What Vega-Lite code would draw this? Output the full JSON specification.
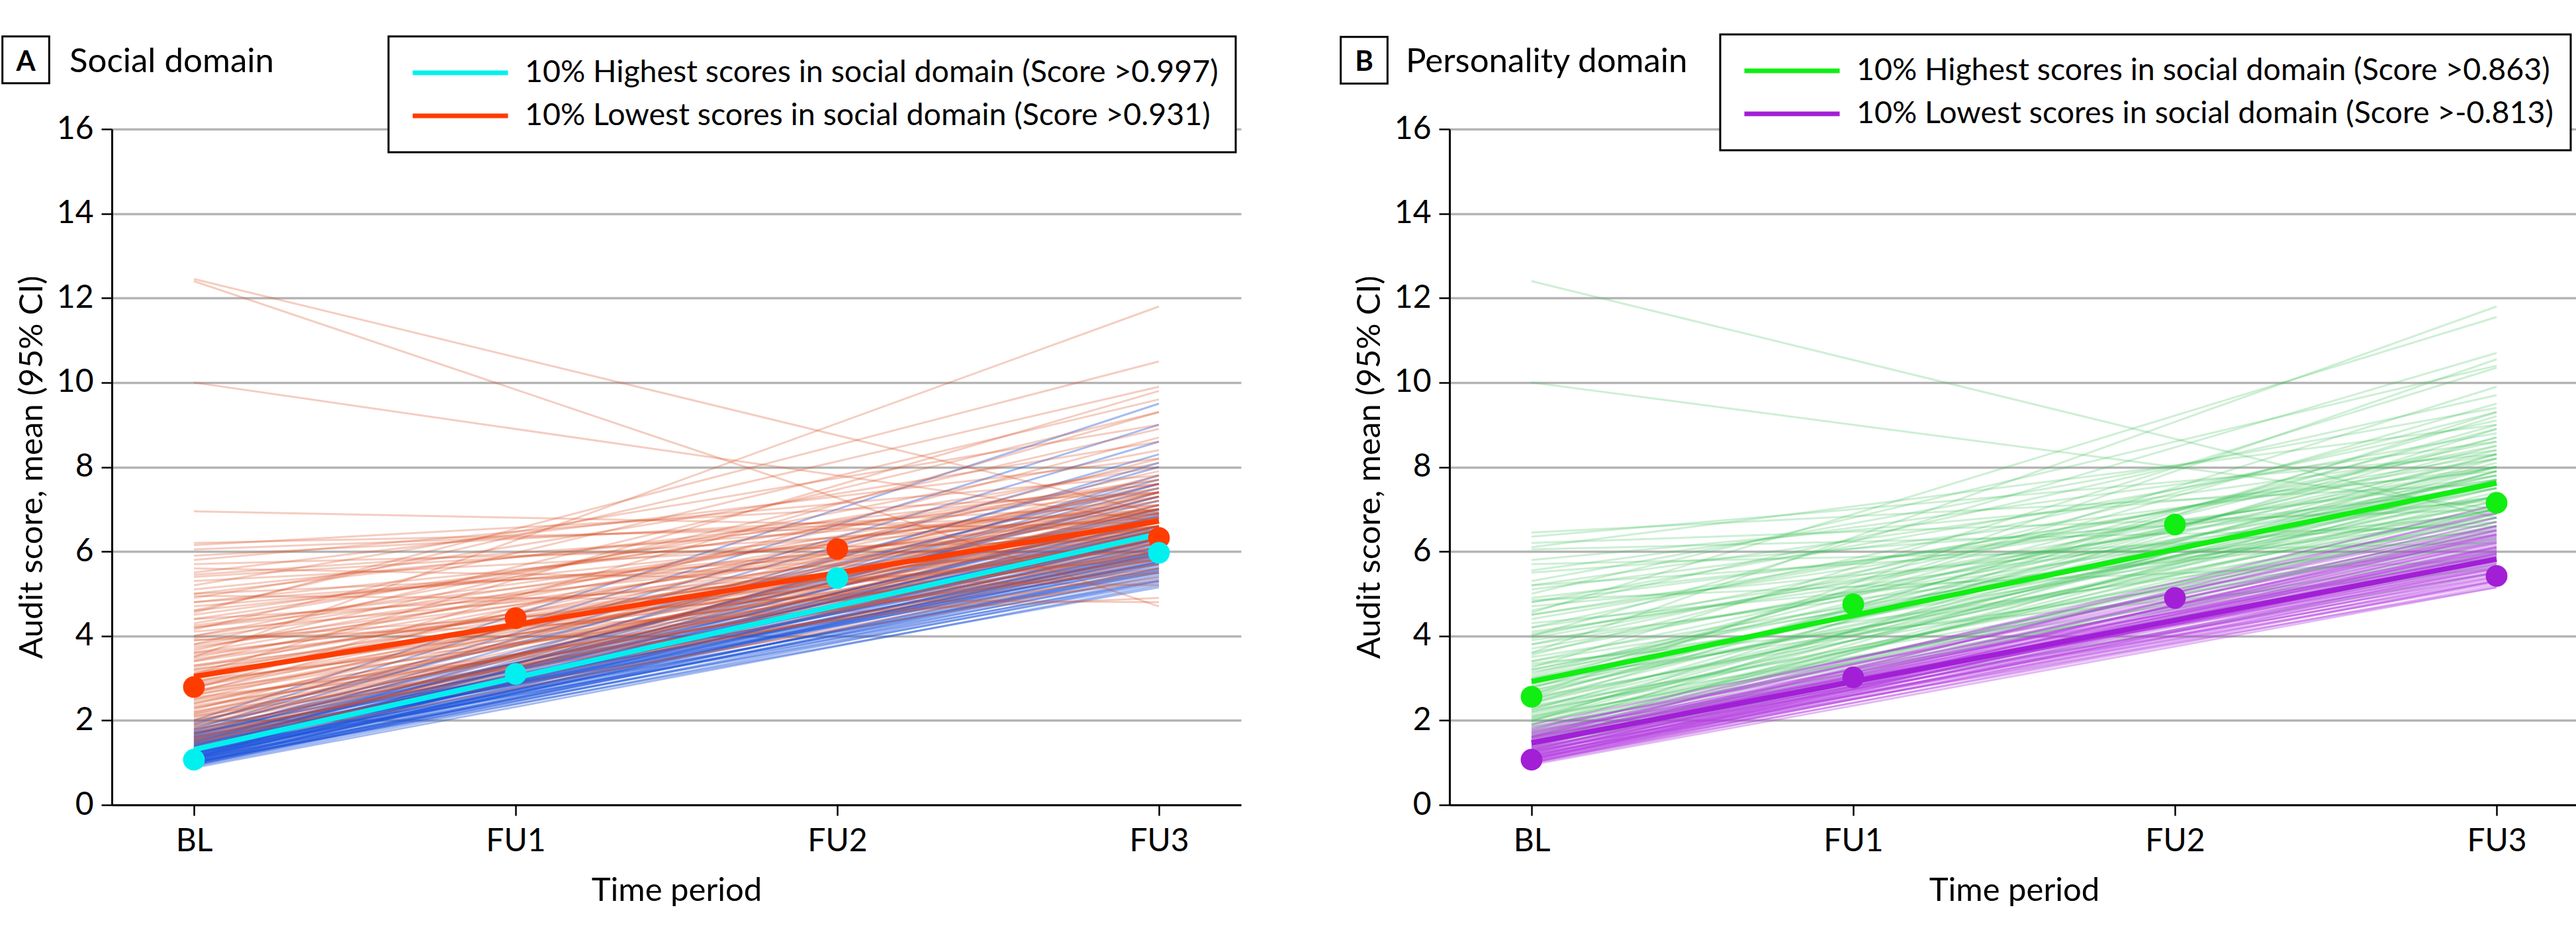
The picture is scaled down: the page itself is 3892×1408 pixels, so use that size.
{
  "$schema": "https://vega.github.io/schema/vega-lite/v6.json",
  "background": "white",
  "padding": {"left": -3, "top": 49, "right": 0, "bottom": 0},
  "spacing": 144,
  "config": {
    "font": "Lato",
    "view": {"stroke": null},
    "axis": {
      "domainColor": "black", "domainWidth": 3, "tickColor": "black", "tickWidth": 2.5, "tickSize": 16,
      "labelFont": "Lato", "labelFontSize": 48, "labelColor": "black",
      "titleFont": "Lato", "titleFontSize": 49, "titleFontWeight": "normal", "titleColor": "black"
    },
    "axisX": {"grid": false, "labelPadding": 15, "titlePadding": 26},
    "axisY": {"grid": true, "gridColor": "#b4b4b4", "gridWidth": 3.5, "labelPadding": 12, "titlePadding": 12, "format": "d"},
    "legend": {
      "orient": "none", "title": null, "symbolType": "stroke", "symbolSize": 20736, "symbolStrokeWidth": 7,
      "symbolOpacity": 1, "clipHeight": 58, "rowPadding": 7, "padding": 26, "symbolOffset": 7, "labelOffset": 22,
      "labelFont": "Lato", "labelFontSize": 46.5, "labelColor": "black", "labelLimit": 0,
      "fillColor": "white", "strokeColor": "black", "direction": "vertical"
    }
  },
  "resolve": {"scale": {"color": "independent"}, "legend": {"color": "independent"}},
  "datasets": {
    "socialHigh": [
      {"bl":0.88,"fu3":5.2},{"bl":0.92,"fu3":5.3},{"bl":0.95,"fu3":5.45},{"bl":0.97,"fu3":5.6},{"bl":1.0,"fu3":5.35},
      {"bl":1.0,"fu3":5.7},{"bl":1.02,"fu3":5.9},{"bl":1.05,"fu3":5.5},{"bl":1.05,"fu3":6.1},{"bl":1.08,"fu3":5.8},
      {"bl":1.1,"fu3":5.25},{"bl":1.1,"fu3":6.3},{"bl":1.12,"fu3":5.95},{"bl":1.15,"fu3":5.6},{"bl":1.15,"fu3":6.5},
      {"bl":1.18,"fu3":6.05},{"bl":1.2,"fu3":5.4},{"bl":1.2,"fu3":6.7},{"bl":1.22,"fu3":6.2},{"bl":1.25,"fu3":5.75},
      {"bl":1.25,"fu3":6.9},{"bl":1.28,"fu3":6.35},{"bl":1.3,"fu3":5.5},{"bl":1.3,"fu3":7.1},{"bl":1.32,"fu3":6.0},
      {"bl":1.35,"fu3":6.6},{"bl":1.38,"fu3":5.85},{"bl":1.4,"fu3":7.3},{"bl":1.42,"fu3":6.25},{"bl":1.45,"fu3":5.65},
      {"bl":1.45,"fu3":6.8},{"bl":1.48,"fu3":7.5},{"bl":1.5,"fu3":6.1},{"bl":1.52,"fu3":7.0},{"bl":1.55,"fu3":5.9},
      {"bl":1.58,"fu3":6.45},{"bl":1.6,"fu3":7.7},{"bl":1.62,"fu3":6.3},{"bl":1.65,"fu3":8.0},{"bl":1.68,"fu3":6.7},
      {"bl":1.7,"fu3":5.7},{"bl":1.72,"fu3":7.2},{"bl":1.75,"fu3":8.3},{"bl":1.78,"fu3":6.5},{"bl":1.8,"fu3":8.6},
      {"bl":1.85,"fu3":7.0},{"bl":1.9,"fu3":9.0},{"bl":1.95,"fu3":7.6},{"bl":2.0,"fu3":9.5},{"bl":1.3,"fu3":8.1},
      {"bl":1.1,"fu3":7.8},{"bl":0.98,"fu3":6.4},{"bl":1.05,"fu3":6.75},{"bl":1.15,"fu3":7.4},{"bl":1.25,"fu3":5.3},
      {"bl":1.35,"fu3":5.95},{"bl":1.4,"fu3":6.45},{"bl":1.02,"fu3":5.15},{"bl":0.95,"fu3":6.0},{"bl":1.08,"fu3":6.55},
      {"bl":1.0,"fu3":6.2},{"bl":1.05,"fu3":5.95},{"bl":1.1,"fu3":6.6},{"bl":1.15,"fu3":5.85},{"bl":1.2,"fu3":6.3},
      {"bl":1.25,"fu3":6.5},{"bl":1.3,"fu3":6.15},{"bl":1.35,"fu3":6.85},{"bl":1.4,"fu3":5.75},{"bl":1.45,"fu3":6.3},
      {"bl":1.5,"fu3":6.6},{"bl":1.55,"fu3":6.95},{"bl":1.6,"fu3":6.0},{"bl":1.65,"fu3":7.3},{"bl":1.7,"fu3":6.4},
      {"bl":0.93,"fu3":5.75},{"bl":0.99,"fu3":5.55},{"bl":1.12,"fu3":6.85},{"bl":1.22,"fu3":5.55},{"bl":1.33,"fu3":7.6}
    ],
    "socialLow": [
      {"bl":12.45,"fu3":6.9},{"bl":12.4,"fu3":4.7},{"bl":10.0,"fu3":6.7},{"bl":6.95,"fu3":6.5},{"bl":6.2,"fu3":6.7},
      {"bl":6.15,"fu3":7.4},{"bl":6.05,"fu3":6.9},{"bl":5.8,"fu3":7.8},{"bl":5.7,"fu3":6.3},{"bl":5.5,"fu3":8.2},
      {"bl":5.45,"fu3":7.0},{"bl":5.3,"fu3":6.5},{"bl":5.2,"fu3":9.0},{"bl":5.1,"fu3":7.4},{"bl":5.0,"fu3":6.0},
      {"bl":4.9,"fu3":8.6},{"bl":4.8,"fu3":7.1},{"bl":4.7,"fu3":6.6},{"bl":4.6,"fu3":9.9},{"bl":4.55,"fu3":10.5},
      {"bl":4.5,"fu3":7.6},{"bl":4.4,"fu3":5.8},{"bl":4.3,"fu3":8.0},{"bl":4.25,"fu3":6.9},{"bl":4.2,"fu3":7.3},
      {"bl":4.1,"fu3":6.2},{"bl":4.0,"fu3":8.4},{"bl":3.95,"fu3":7.0},{"bl":3.9,"fu3":5.5},{"bl":3.8,"fu3":9.3},
      {"bl":3.75,"fu3":6.7},{"bl":3.7,"fu3":7.7},{"bl":3.6,"fu3":6.1},{"bl":3.5,"fu3":11.8},{"bl":3.5,"fu3":7.2},
      {"bl":3.45,"fu3":6.4},{"bl":3.4,"fu3":8.1},{"bl":3.3,"fu3":5.9},{"bl":3.25,"fu3":7.5},{"bl":3.2,"fu3":6.8},
      {"bl":3.1,"fu3":9.8},{"bl":3.05,"fu3":6.3},{"bl":3.0,"fu3":7.0},{"bl":2.95,"fu3":5.6},{"bl":2.9,"fu3":7.9},
      {"bl":2.85,"fu3":6.6},{"bl":2.8,"fu3":7.3},{"bl":2.7,"fu3":6.0},{"bl":2.65,"fu3":8.7},{"bl":2.6,"fu3":6.9},
      {"bl":2.55,"fu3":5.3},{"bl":2.5,"fu3":7.6},{"bl":2.45,"fu3":6.4},{"bl":2.4,"fu3":7.1},{"bl":2.35,"fu3":5.8},
      {"bl":2.3,"fu3":6.7},{"bl":2.25,"fu3":8.2},{"bl":2.2,"fu3":6.2},{"bl":2.15,"fu3":7.4},{"bl":2.1,"fu3":5.5},
      {"bl":2.05,"fu3":6.9},{"bl":2.0,"fu3":6.5},{"bl":1.95,"fu3":7.8},{"bl":1.9,"fu3":6.0},{"bl":1.85,"fu3":7.0},
      {"bl":1.8,"fu3":5.7},{"bl":1.75,"fu3":6.6},{"bl":1.7,"fu3":7.3},{"bl":1.65,"fu3":6.2},{"bl":1.6,"fu3":5.4},
      {"bl":1.55,"fu3":6.8},{"bl":1.5,"fu3":5.9},{"bl":1.45,"fu3":7.1},{"bl":1.4,"fu3":6.3},{"bl":1.35,"fu3":5.6},
      {"bl":3.9,"fu3":4.9},{"bl":5.6,"fu3":5.2},{"bl":4.95,"fu3":4.8},{"bl":2.75,"fu3":9.3},{"bl":3.65,"fu3":8.9},
      {"bl":4.15,"fu3":9.6},
      {"bl":1.5,"fu3":6.1},{"bl":1.6,"fu3":6.5},{"bl":1.7,"fu3":5.8},{"bl":1.8,"fu3":6.3},{"bl":1.9,"fu3":6.8},
      {"bl":2.0,"fu3":5.9},{"bl":2.1,"fu3":6.4},{"bl":2.2,"fu3":7.0},{"bl":2.3,"fu3":6.1},{"bl":2.4,"fu3":6.6},
      {"bl":2.5,"fu3":5.7},{"bl":2.6,"fu3":6.3},{"bl":2.7,"fu3":7.2},{"bl":2.8,"fu3":6.5},{"bl":2.9,"fu3":6.0},
      {"bl":3.0,"fu3":6.6},{"bl":3.1,"fu3":7.4},{"bl":3.2,"fu3":6.2},{"bl":3.3,"fu3":7.0},{"bl":3.4,"fu3":6.6},
      {"bl":3.6,"fu3":7.5},{"bl":3.8,"fu3":6.9},{"bl":4.0,"fu3":7.4},{"bl":4.2,"fu3":6.6},{"bl":4.4,"fu3":7.7},
      {"bl":4.6,"fu3":7.0},{"bl":4.8,"fu3":6.4},{"bl":5.0,"fu3":7.6},{"bl":5.4,"fu3":6.8},{"bl":5.9,"fu3":7.1},
      {"bl":1.55,"fu3":7.4},{"bl":2.15,"fu3":6.0},{"bl":2.65,"fu3":6.8},{"bl":3.15,"fu3":5.8},{"bl":3.55,"fu3":6.5}
    ],
    "personalityHigh": [
      {"bl":12.4,"fu3":6.8},{"bl":10.0,"fu3":7.0},{"bl":6.45,"fu3":7.6},{"bl":6.35,"fu3":8.3},{"bl":6.2,"fu3":7.0},
      {"bl":6.1,"fu3":9.0},{"bl":6.05,"fu3":6.6},{"bl":5.8,"fu3":7.9},{"bl":5.55,"fu3":8.6},{"bl":5.5,"fu3":7.2},
      {"bl":5.3,"fu3":9.4},{"bl":5.2,"fu3":6.7},{"bl":5.1,"fu3":8.0},{"bl":5.0,"fu3":10.4},{"bl":4.9,"fu3":7.5},
      {"bl":4.8,"fu3":8.8},{"bl":4.7,"fu3":6.9},{"bl":4.6,"fu3":9.7},{"bl":4.55,"fu3":11.55},{"bl":4.5,"fu3":7.8},
      {"bl":4.4,"fu3":8.3},{"bl":4.3,"fu3":6.5},{"bl":4.2,"fu3":9.1},{"bl":4.1,"fu3":7.3},{"bl":4.0,"fu3":10.7},
      {"bl":3.95,"fu3":8.0},{"bl":3.9,"fu3":6.8},{"bl":3.8,"fu3":8.6},{"bl":3.7,"fu3":7.6},{"bl":3.6,"fu3":11.8},
      {"bl":3.55,"fu3":9.3},{"bl":3.5,"fu3":7.1},{"bl":3.4,"fu3":8.2},{"bl":3.3,"fu3":6.4},{"bl":3.25,"fu3":10.35},
      {"bl":3.2,"fu3":7.8},{"bl":3.1,"fu3":8.9},{"bl":3.0,"fu3":7.3},{"bl":2.95,"fu3":6.2},{"bl":2.9,"fu3":9.5},
      {"bl":2.85,"fu3":8.0},{"bl":2.8,"fu3":6.9},{"bl":2.7,"fu3":8.5},{"bl":2.65,"fu3":7.5},{"bl":2.6,"fu3":10.55},
      {"bl":2.55,"fu3":6.6},{"bl":2.5,"fu3":8.1},{"bl":2.45,"fu3":7.2},{"bl":2.4,"fu3":9.2},{"bl":2.35,"fu3":6.3},
      {"bl":2.3,"fu3":7.7},{"bl":2.25,"fu3":8.7},{"bl":2.2,"fu3":6.8},{"bl":2.15,"fu3":7.4},{"bl":2.1,"fu3":5.9},
      {"bl":2.05,"fu3":8.3},{"bl":2.0,"fu3":7.0},{"bl":1.95,"fu3":6.5},{"bl":1.9,"fu3":7.9},{"bl":1.85,"fu3":6.1},
      {"bl":1.8,"fu3":7.3},{"bl":1.75,"fu3":8.9},{"bl":1.7,"fu3":6.7},{"bl":1.65,"fu3":5.7},{"bl":1.6,"fu3":7.6},
      {"bl":1.55,"fu3":6.3},{"bl":1.5,"fu3":7.1},{"bl":1.45,"fu3":5.5},{"bl":1.4,"fu3":6.9},{"bl":1.35,"fu3":6.0},
      {"bl":1.3,"fu3":6.6},{"bl":5.7,"fu3":6.2},{"bl":4.85,"fu3":5.8},{"bl":3.35,"fu3":5.6},{"bl":2.75,"fu3":9.9},
      {"bl":1.98,"fu3":9.3},{"bl":3.15,"fu3":7.0},{"bl":2.25,"fu3":6.0},{"bl":4.05,"fu3":7.7},{"bl":1.62,"fu3":8.2},
      {"bl":1.5,"fu3":6.5},{"bl":1.6,"fu3":7.0},{"bl":1.7,"fu3":7.7},{"bl":1.8,"fu3":6.8},{"bl":1.9,"fu3":7.2},
      {"bl":2.0,"fu3":8.0},{"bl":2.1,"fu3":7.5},{"bl":2.2,"fu3":7.9},{"bl":2.3,"fu3":6.6},{"bl":2.4,"fu3":7.6},
      {"bl":2.5,"fu3":7.0},{"bl":2.6,"fu3":8.3},{"bl":2.7,"fu3":7.3},{"bl":2.8,"fu3":7.8},{"bl":2.9,"fu3":6.7},
      {"bl":3.0,"fu3":8.4},{"bl":3.2,"fu3":7.5},{"bl":3.4,"fu3":7.0},{"bl":3.6,"fu3":8.0},{"bl":3.8,"fu3":7.3},
      {"bl":4.0,"fu3":8.5},{"bl":4.2,"fu3":7.6},{"bl":4.5,"fu3":8.2},{"bl":4.8,"fu3":7.7},{"bl":5.2,"fu3":8.4},
      {"bl":1.45,"fu3":7.9},{"bl":2.05,"fu3":6.4},{"bl":2.55,"fu3":9.0},{"bl":3.05,"fu3":8.7}
    ],
    "personalityLow": [
      {"bl":0.95,"fu3":5.15},{"bl":0.98,"fu3":5.3},{"bl":1.0,"fu3":5.5},{"bl":1.02,"fu3":5.2},{"bl":1.05,"fu3":5.7},
      {"bl":1.05,"fu3":5.4},{"bl":1.08,"fu3":5.85},{"bl":1.1,"fu3":5.3},{"bl":1.1,"fu3":6.0},{"bl":1.12,"fu3":5.55},
      {"bl":1.15,"fu3":5.75},{"bl":1.15,"fu3":6.15},{"bl":1.18,"fu3":5.45},{"bl":1.2,"fu3":5.9},{"bl":1.22,"fu3":6.3},
      {"bl":1.25,"fu3":5.6},{"bl":1.25,"fu3":6.05},{"bl":1.28,"fu3":5.35},{"bl":1.3,"fu3":6.45},{"bl":1.3,"fu3":5.8},
      {"bl":1.32,"fu3":6.2},{"bl":1.35,"fu3":5.5},{"bl":1.38,"fu3":6.6},{"bl":1.4,"fu3":5.95},{"bl":1.42,"fu3":6.35},
      {"bl":1.45,"fu3":5.7},{"bl":1.48,"fu3":6.8},{"bl":1.5,"fu3":6.1},{"bl":1.52,"fu3":5.4},{"bl":1.55,"fu3":6.5},
      {"bl":1.58,"fu3":5.85},{"bl":1.6,"fu3":6.25},{"bl":1.62,"fu3":5.6},{"bl":1.65,"fu3":6.7},{"bl":1.7,"fu3":6.0},
      {"bl":1.75,"fu3":5.5},{"bl":1.8,"fu3":6.4},{"bl":1.85,"fu3":5.9},{"bl":1.9,"fu3":6.6},{"bl":1.0,"fu3":5.95},
      {"bl":1.13,"fu3":6.4},{"bl":1.27,"fu3":5.25},{"bl":1.36,"fu3":6.95},{"bl":1.44,"fu3":5.3},{"bl":1.2,"fu3":5.15},
      {"bl":1.07,"fu3":6.25},{"bl":1.6,"fu3":7.1},{"bl":1.75,"fu3":6.9},
      {"bl":1.0,"fu3":5.65},{"bl":1.05,"fu3":6.1},{"bl":1.1,"fu3":5.6},{"bl":1.15,"fu3":5.95},{"bl":1.2,"fu3":6.5},
      {"bl":1.25,"fu3":5.8},{"bl":1.3,"fu3":6.1},{"bl":1.35,"fu3":5.75},{"bl":1.4,"fu3":6.4},{"bl":1.45,"fu3":6.05},
      {"bl":1.5,"fu3":5.65},{"bl":1.55,"fu3":6.2},{"bl":1.6,"fu3":5.95},{"bl":1.65,"fu3":6.35},{"bl":1.7,"fu3":6.55}
    ],
    "socialFit": [
      {"group":"10% Highest scores in social domain (Score >0.997)","visit":0,"score":1.31},
      {"group":"10% Highest scores in social domain (Score >0.997)","visit":3,"score":6.42},
      {"group":"10% Lowest scores in social domain (Score >0.931)","visit":0,"score":3.04},
      {"group":"10% Lowest scores in social domain (Score >0.931)","visit":3,"score":6.72}
    ],
    "socialMeans": [
      {"group":"10% Lowest scores in social domain (Score >0.931)","visit":0,"score":2.79},
      {"group":"10% Lowest scores in social domain (Score >0.931)","visit":1,"score":4.42},
      {"group":"10% Lowest scores in social domain (Score >0.931)","visit":2,"score":6.06},
      {"group":"10% Lowest scores in social domain (Score >0.931)","visit":3,"score":6.32},
      {"group":"10% Highest scores in social domain (Score >0.997)","visit":0,"score":1.07},
      {"group":"10% Highest scores in social domain (Score >0.997)","visit":1,"score":3.10},
      {"group":"10% Highest scores in social domain (Score >0.997)","visit":2,"score":5.37},
      {"group":"10% Highest scores in social domain (Score >0.997)","visit":3,"score":5.97}
    ],
    "personalityFit": [
      {"group":"10% Highest scores in social domain (Score >0.863)","visit":0,"score":2.92},
      {"group":"10% Highest scores in social domain (Score >0.863)","visit":3,"score":7.62},
      {"group":"10% Lowest scores in social domain (Score >-0.813)","visit":0,"score":1.47},
      {"group":"10% Lowest scores in social domain (Score >-0.813)","visit":3,"score":5.82}
    ],
    "personalityMeans": [
      {"group":"10% Lowest scores in social domain (Score >-0.813)","visit":0,"score":1.07},
      {"group":"10% Lowest scores in social domain (Score >-0.813)","visit":1,"score":3.02},
      {"group":"10% Lowest scores in social domain (Score >-0.813)","visit":2,"score":4.90},
      {"group":"10% Lowest scores in social domain (Score >-0.813)","visit":3,"score":5.42},
      {"group":"10% Highest scores in social domain (Score >0.863)","visit":0,"score":2.56},
      {"group":"10% Highest scores in social domain (Score >0.863)","visit":1,"score":4.75},
      {"group":"10% Highest scores in social domain (Score >0.863)","visit":2,"score":6.64},
      {"group":"10% Highest scores in social domain (Score >0.863)","visit":3,"score":7.15}
    ],
    "socialLabel": [{"letter":"A","name":"Social domain"}],
    "personalityLabel": [{"letter":"B","name":"Personality domain"}]
  },
  "hconcat": [
    {
      "width": 1706, "height": 1021,
      "layer": [
        {
          "data": {"name": "socialHigh"},
          "mark": {"type": "rule", "color": "#1e55dc", "strokeWidth": 3, "opacity": 0.4},
          "encoding": {
            "x": {"datum": 0, "type": "quantitative", "scale": {"domain": [-0.2551, 3.2551], "nice": false, "zero": false}, "axis": {"title": "Time period", "values": [0,1,2,3], "labelExpr": "['BL','FU1','FU2','FU3'][datum.value]"}},
            "x2": {"datum": 3},
            "y": {"field": "bl", "type": "quantitative", "scale": {"domain": [0, 16], "nice": false, "zero": false}, "axis": {"title": "Audit score, mean (95% CI)", "values": [0,2,4,6,8,10,12,14,16]}},
            "y2": {"field": "fu3"}
          }
        },
        {
          "data": {"name": "socialLow"},
          "mark": {"type": "rule", "color": "#d84a22", "strokeWidth": 3, "opacity": 0.28},
          "encoding": {
            "x": {"datum": 0, "type": "quantitative", "scale": {"domain": [-0.2551, 3.2551], "nice": false, "zero": false}, "axis": {"title": "Time period", "values": [0,1,2,3], "labelExpr": "['BL','FU1','FU2','FU3'][datum.value]"}},
            "x2": {"datum": 3},
            "y": {"field": "bl", "type": "quantitative", "scale": {"domain": [0, 16], "nice": false, "zero": false}, "axis": {"title": "Audit score, mean (95% CI)", "values": [0,2,4,6,8,10,12,14,16]}},
            "y2": {"field": "fu3"}
          }
        },
        {
          "data": {"name": "socialFit"},
          "mark": {"type": "line", "strokeWidth": 8},
          "encoding": {
            "x": {"field": "visit", "type": "quantitative", "scale": {"domain": [-0.2551, 3.2551], "nice": false, "zero": false}, "axis": {"title": "Time period", "values": [0,1,2,3], "labelExpr": "['BL','FU1','FU2','FU3'][datum.value]"}},
            "y": {"field": "score", "type": "quantitative", "scale": {"domain": [0, 16], "nice": false, "zero": false}, "axis": {"title": "Audit score, mean (95% CI)", "values": [0,2,4,6,8,10,12,14,16]}},
            "color": {"field": "group", "type": "nominal",
              "scale": {"domain": ["10% Highest scores in social domain (Score >0.997)", "10% Lowest scores in social domain (Score >0.931)"], "range": ["#00f0f0", "#ff3c00"]},
              "legend": {"legendX": 418, "legendY": -140, "encode": {"legend": {"update": {"strokeWidth": {"value": 3}}}}}}
          }
        },
        {
          "data": {"name": "socialMeans"},
          "mark": {"type": "point", "filled": true, "size": 1075, "opacity": 1},
          "encoding": {
            "x": {"field": "visit", "type": "quantitative", "scale": {"domain": [-0.2551, 3.2551], "nice": false, "zero": false}, "axis": {"title": "Time period", "values": [0,1,2,3], "labelExpr": "['BL','FU1','FU2','FU3'][datum.value]"}},
            "y": {"field": "score", "type": "quantitative", "scale": {"domain": [0, 16], "nice": false, "zero": false}, "axis": {"title": "Audit score, mean (95% CI)", "values": [0,2,4,6,8,10,12,14,16]}},
            "color": {"field": "group", "type": "nominal",
              "scale": {"domain": ["10% Highest scores in social domain (Score >0.997)", "10% Lowest scores in social domain (Score >0.931)"], "range": ["#00f0f0", "#ff3c00"]},
              "legend": {"legendX": 418, "legendY": -140, "encode": {"legend": {"update": {"strokeWidth": {"value": 3}}}}}}
          }
        },
        {
          "data": {"name": "socialLabel"},
          "mark": {"type": "point", "shape": "square", "size": 5000, "filled": false, "stroke": "black", "strokeWidth": 3, "opacity": 1},
          "encoding": {
            "x": {"datum": -0.5226, "type": "quantitative", "scale": {"domain": [-0.2551, 3.2551], "nice": false, "zero": false}},
            "y": {"datum": 17.638, "type": "quantitative", "scale": {"domain": [0, 16], "nice": false, "zero": false}}
          }
        },
        {
          "data": {"name": "socialLabel"},
          "mark": {"type": "text", "font": "Lato", "fontSize": 42, "fontWeight": "bold", "align": "center", "baseline": "alphabetic", "color": "black"},
          "encoding": {
            "x": {"datum": -0.5226, "type": "quantitative", "scale": {"domain": [-0.2551, 3.2551], "nice": false, "zero": false}},
            "y": {"datum": 17.379, "type": "quantitative", "scale": {"domain": [0, 16], "nice": false, "zero": false}},
            "text": {"field": "letter"}
          }
        },
        {
          "data": {"name": "socialLabel"},
          "mark": {"type": "text", "font": "Lato", "fontSize": 51, "align": "left", "baseline": "alphabetic", "color": "black"},
          "encoding": {
            "x": {"datum": -0.3868, "type": "quantitative", "scale": {"domain": [-0.2551, 3.2551], "nice": false, "zero": false}},
            "y": {"datum": 17.352, "type": "quantitative", "scale": {"domain": [0, 16], "nice": false, "zero": false}},
            "text": {"field": "name"}
          }
        }
      ]
    },
    {
      "width": 1706, "height": 1021,
      "layer": [
        {
          "data": {"name": "personalityHigh"},
          "mark": {"type": "rule", "color": "#3cc25a", "strokeWidth": 3, "opacity": 0.26},
          "encoding": {
            "x": {"datum": 0, "type": "quantitative", "scale": {"domain": [-0.2551, 3.2551], "nice": false, "zero": false}, "axis": {"title": "Time period", "values": [0,1,2,3], "labelExpr": "['BL','FU1','FU2','FU3'][datum.value]"}},
            "x2": {"datum": 3},
            "y": {"field": "bl", "type": "quantitative", "scale": {"domain": [0, 16], "nice": false, "zero": false}, "axis": {"title": "Audit score, mean (95% CI)", "values": [0,2,4,6,8,10,12,14,16]}},
            "y2": {"field": "fu3"}
          }
        },
        {
          "data": {"name": "personalityLow"},
          "mark": {"type": "rule", "color": "#b43ee0", "strokeWidth": 3, "opacity": 0.36},
          "encoding": {
            "x": {"datum": 0, "type": "quantitative", "scale": {"domain": [-0.2551, 3.2551], "nice": false, "zero": false}, "axis": {"title": "Time period", "values": [0,1,2,3], "labelExpr": "['BL','FU1','FU2','FU3'][datum.value]"}},
            "x2": {"datum": 3},
            "y": {"field": "bl", "type": "quantitative", "scale": {"domain": [0, 16], "nice": false, "zero": false}, "axis": {"title": "Audit score, mean (95% CI)", "values": [0,2,4,6,8,10,12,14,16]}},
            "y2": {"field": "fu3"}
          }
        },
        {
          "data": {"name": "personalityFit"},
          "mark": {"type": "line", "strokeWidth": 8},
          "encoding": {
            "x": {"field": "visit", "type": "quantitative", "scale": {"domain": [-0.2551, 3.2551], "nice": false, "zero": false}, "axis": {"title": "Time period", "values": [0,1,2,3], "labelExpr": "['BL','FU1','FU2','FU3'][datum.value]"}},
            "y": {"field": "score", "type": "quantitative", "scale": {"domain": [0, 16], "nice": false, "zero": false}, "axis": {"title": "Audit score, mean (95% CI)", "values": [0,2,4,6,8,10,12,14,16]}},
            "color": {"field": "group", "type": "nominal",
              "scale": {"domain": ["10% Highest scores in social domain (Score >0.863)", "10% Lowest scores in social domain (Score >-0.813)"], "range": ["#11ee11", "#a21fd6"]},
              "legend": {"legendX": 409, "legendY": -143, "encode": {"legend": {"update": {"strokeWidth": {"value": 3}}}}}}
          }
        },
        {
          "data": {"name": "personalityMeans"},
          "mark": {"type": "point", "filled": true, "size": 1075, "opacity": 1},
          "encoding": {
            "x": {"field": "visit", "type": "quantitative", "scale": {"domain": [-0.2551, 3.2551], "nice": false, "zero": false}, "axis": {"title": "Time period", "values": [0,1,2,3], "labelExpr": "['BL','FU1','FU2','FU3'][datum.value]"}},
            "y": {"field": "score", "type": "quantitative", "scale": {"domain": [0, 16], "nice": false, "zero": false}, "axis": {"title": "Audit score, mean (95% CI)", "values": [0,2,4,6,8,10,12,14,16]}},
            "color": {"field": "group", "type": "nominal",
              "scale": {"domain": ["10% Highest scores in social domain (Score >0.863)", "10% Lowest scores in social domain (Score >-0.813)"], "range": ["#11ee11", "#a21fd6"]},
              "legend": {"legendX": 409, "legendY": -143, "encode": {"legend": {"update": {"strokeWidth": {"value": 3}}}}}}
          }
        },
        {
          "data": {"name": "personalityLabel"},
          "mark": {"type": "point", "shape": "square", "size": 5000, "filled": false, "stroke": "black", "strokeWidth": 3, "opacity": 1},
          "encoding": {
            "x": {"datum": -0.5205, "type": "quantitative", "scale": {"domain": [-0.2551, 3.2551], "nice": false, "zero": false}},
            "y": {"datum": 17.63, "type": "quantitative", "scale": {"domain": [0, 16], "nice": false, "zero": false}}
          }
        },
        {
          "data": {"name": "personalityLabel"},
          "mark": {"type": "text", "font": "Lato", "fontSize": 42, "fontWeight": "bold", "align": "center", "baseline": "alphabetic", "color": "black"},
          "encoding": {
            "x": {"datum": -0.5205, "type": "quantitative", "scale": {"domain": [-0.2551, 3.2551], "nice": false, "zero": false}},
            "y": {"datum": 17.379, "type": "quantitative", "scale": {"domain": [0, 16], "nice": false, "zero": false}},
            "text": {"field": "letter"}
          }
        },
        {
          "data": {"name": "personalityLabel"},
          "mark": {"type": "text", "font": "Lato", "fontSize": 51, "align": "left", "baseline": "alphabetic", "color": "black"},
          "encoding": {
            "x": {"datum": -0.3909, "type": "quantitative", "scale": {"domain": [-0.2551, 3.2551], "nice": false, "zero": false}},
            "y": {"datum": 17.352, "type": "quantitative", "scale": {"domain": [0, 16], "nice": false, "zero": false}},
            "text": {"field": "name"}
          }
        }
      ]
    }
  ]
}
